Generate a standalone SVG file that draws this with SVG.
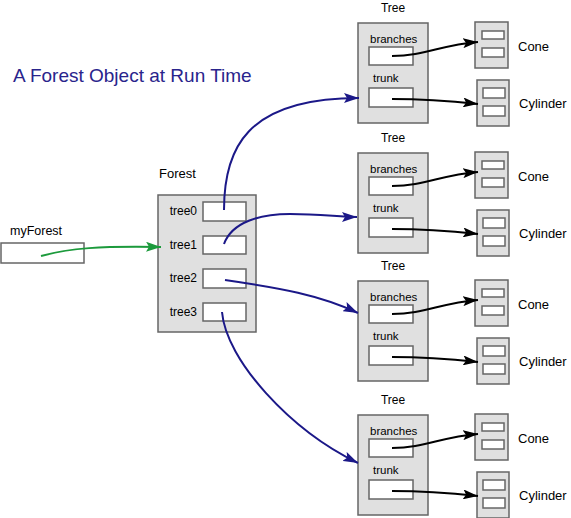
<svg xmlns="http://www.w3.org/2000/svg" width="571" height="518" viewBox="0 0 571 518">
<style>
text{font-family:"Liberation Sans",Arial,sans-serif;fill:#000}
.box{fill:#e0e0e0;stroke:#666;stroke-width:1.5}
.slot{fill:#fff;stroke:#666;stroke-width:1.5}
.lbl{font-size:12px}
.big{font-size:13px}
.blue{fill:none;stroke:#1b1888;stroke-width:2;marker-end:url(#ab)}
.blk{fill:none;stroke:#000;stroke-width:2;marker-end:url(#ak)}
.grn{fill:none;stroke:#1c9a3c;stroke-width:2;marker-end:url(#ag)}
</style>
<defs>
<marker id="ab" markerUnits="userSpaceOnUse" markerWidth="16" markerHeight="10" refX="15" refY="5" orient="auto" viewBox="0 0 16 10"><path d="M0,0 L15,5 L0,10 L3,5 z" fill="#1b1888"/></marker>
<marker id="ak" markerUnits="userSpaceOnUse" markerWidth="16" markerHeight="10" refX="15" refY="5" orient="auto" viewBox="0 0 16 10"><path d="M0,0 L15,5 L0,10 L3,5 z" fill="#000"/></marker>
<marker id="ag" markerUnits="userSpaceOnUse" markerWidth="16" markerHeight="10" refX="15" refY="5" orient="auto" viewBox="0 0 16 10"><path d="M0,0 L15,5 L0,10 L3,5 z" fill="#1c9a3c"/></marker>
<g id="treeTpl">
<text x="393" y="12" class="lbl" text-anchor="middle">Tree</text>
<rect x="358" y="23" width="70" height="100" class="box"/>
<text x="370" y="43" font-size="11.5">branches</text>
<rect x="369" y="47" width="44" height="18" class="slot"/>
<text x="373" y="82" font-size="11.5">trunk</text>
<rect x="369" y="88" width="44" height="19" class="slot"/>
<rect x="475" y="22" width="33" height="46" class="box"/>
<rect x="482" y="31" width="22" height="8" class="slot"/>
<rect x="482" y="48" width="22" height="9" class="slot"/>
<text x="518" y="51" class="big">Cone</text>
<rect x="477" y="80" width="32" height="46" class="box"/>
<rect x="483" y="88" width="22" height="10" class="slot"/>
<rect x="483" y="106" width="22" height="10" class="slot"/>
<text x="519" y="108" class="big">Cylinder</text>
</g>
</defs>

<text x="13" y="82" font-size="19" style="fill:#29248c">A Forest Object at Run Time</text>

<g id="myForest">
<text x="10" y="235" font-size="12.5">myForest</text>
<rect x="1" y="243" width="83" height="20" class="slot"/>
</g>

<g id="forest">
<text x="159" y="178" class="big">Forest</text>
<rect x="158" y="195" width="98" height="137" class="box"/>
<text x="197" y="215" class="lbl" text-anchor="end">tree0</text>
<rect x="203" y="202" width="43" height="19" class="slot"/>
<text x="197" y="249" class="lbl" text-anchor="end">tree1</text>
<rect x="203" y="236" width="43" height="18" class="slot"/>
<text x="197" y="282" class="lbl" text-anchor="end">tree2</text>
<rect x="203" y="269" width="43" height="19" class="slot"/>
<text x="197" y="316" class="lbl" text-anchor="end">tree3</text>
<rect x="203" y="303" width="43" height="18" class="slot"/>
</g>

<g id="tree0"><use href="#treeTpl"/></g>
<g id="tree1"><use href="#treeTpl" transform="translate(0,130)"/></g>
<g id="tree2"><use href="#treeTpl" transform="translate(0,258)"/></g>
<g id="tree3"><use href="#treeTpl" transform="translate(0,392)"/></g>

<g id="connectors">
<path class="grn" d="M41,256 C70,248 100,246 161,247"/>
<path class="blue" d="M224,210 C224,150 245,98 359,98"/>
<path class="blue" d="M224,244 C232,222 260,214 290,214 S340,217 357,217"/>
<path class="blue" d="M225,280 C280,288 320,295 358,313"/>
<path class="blue" d="M222,312 C226,360 290,430 358,463"/>
<g id="inner0">
<path class="blk" d="M392,56 C425,56 440,45 478,42"/>
<path class="blk" d="M392,99 C420,99 450,101 478,104"/>
</g>
<g id="inner1" transform="translate(0,130)">
<path class="blk" d="M392,56 C425,56 440,45 478,42"/>
<path class="blk" d="M392,99 C420,99 450,101 478,104"/>
</g>
<g id="inner2" transform="translate(0,258)">
<path class="blk" d="M392,56 C425,56 440,45 478,42"/>
<path class="blk" d="M392,99 C420,99 450,101 478,104"/>
</g>
<g id="inner3" transform="translate(0,392)">
<path class="blk" d="M392,56 C425,56 440,45 478,42"/>
<path class="blk" d="M392,99 C420,99 450,101 478,104"/>
</g>
</g>
</svg>
